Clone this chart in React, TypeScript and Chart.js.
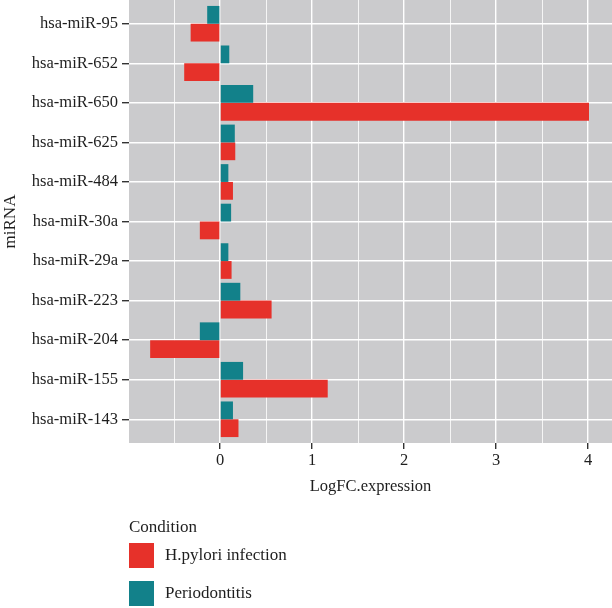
import React, { useEffect, useRef } from "react";
import { Chart, registerables } from "chart.js";

Chart.register(...registerables);

const categories = [
  "hsa-miR-95",
  "hsa-miR-652",
  "hsa-miR-650",
  "hsa-miR-625",
  "hsa-miR-484",
  "hsa-miR-30a",
  "hsa-miR-29a",
  "hsa-miR-223",
  "hsa-miR-204",
  "hsa-miR-155",
  "hsa-miR-143",
];
const periodontitis = [-0.14, 0.1, 0.36, 0.16, 0.09, 0.12, 0.09, 0.22, -0.22, 0.25, 0.14];
const hpylori = [-0.32, -0.39, 4.01, 0.165, 0.14, -0.22, 0.125, 0.56, -0.76, 1.17, 0.2];
const xTicks = [-0.5, 0, 0.5, 1, 1.5, 2, 2.5, 3, 3.5, 4];
const seriesNames = ["H.pylori infection", "Periodontitis"];
const legendTitle = "Condition";

const RED = "#E6312A";
const TEAL = "#12818A";
const PANEL = "#CBCBCD";
const FONT = "'Liberation Serif', serif";
const TEXT = "#1e1e1e";

const panelBg = {
  id: "panelBg",
  beforeDraw(chart: any) {
    const { ctx, chartArea } = chart;
    ctx.save();
    ctx.fillStyle = PANEL;
    ctx.fillRect(chartArea.left, chartArea.top, chartArea.right - chartArea.left, chartArea.bottom - chartArea.top);
    ctx.restore();
  },
};

export default function App() {
  const ref = useRef<HTMLCanvasElement | null>(null);

  useEffect(() => {
    if (!ref.current) return;
    const chart = new Chart(ref.current, {
      type: "bar",
      data: {
        datasets: [
          {
            label: seriesNames[1],
            data: periodontitis.map((v, i) => ({ x: v, y: i })),
            backgroundColor: TEAL,
            borderWidth: 0,
          },
          {
            label: seriesNames[0],
            data: hpylori.map((v, i) => ({ x: v, y: i })),
            backgroundColor: RED,
            borderWidth: 0,
          },
        ],
      },
      plugins: [panelBg],
      options: {
        indexAxis: "y",
        responsive: false,
        animation: false,
        devicePixelRatio: 1,
        layout: { padding: { left: 0, right: 0, top: 0, bottom: 111 } },
        datasets: {
          bar: { categoryPercentage: 0.9, barPercentage: 1.0, grouped: true },
        },
        plugins: {
          legend: { display: false },
          tooltip: { enabled: false },
        },
        scales: {
          x: {
            type: "linear",
            min: -0.99,
            max: 4.26,
            afterBuildTicks: (scale: any) => {
              scale.ticks = xTicks.map((v) => ({ value: v }));
            },
            afterFit: (scale: any) => {
              scale.height = 54;
              scale.paddingLeft = 0;
              scale.paddingRight = 0;
            },
            ticks: {
              autoSkip: false,
              maxRotation: 0,
              padding: 2,
              color: TEXT,
              font: { family: FONT, size: 16.5 },
              callback: (v: any) => (Number.isInteger(v) ? String(v) : ""),
            },
            grid: {
              color: "#ffffff",
              lineWidth: (c: any) => (c.tick && Number.isInteger(c.tick.value) ? 1.4 : 0.8),
              tickColor: (c: any) => (c.tick && Number.isInteger(c.tick.value) ? "#333333" : "rgba(0,0,0,0)"),
              tickLength: 6,
            },
            border: { display: false },
            title: {
              display: true,
              text: "LogFC.expression",
              color: TEXT,
              font: { family: FONT, size: 16.5 },
              padding: 0,
            },
          },
          y: {
            type: "linear",
            min: -0.6,
            max: 10.6,
            reverse: true,
            offset: false,
            afterBuildTicks: (scale: any) => {
              scale.ticks = categories.map((_, i) => ({ value: i }));
            },
            afterFit: (scale: any) => {
              scale.width = 129;
              scale.paddingTop = 0;
              scale.paddingBottom = 0;
            },
            ticks: {
              autoSkip: false,
              padding: 4,
              color: TEXT,
              font: { family: FONT, size: 16.5 },
              callback: (v: any) => categories[v] ?? "",
            },
            grid: {
              offset: false,
              color: "#ffffff",
              lineWidth: 1.4,
              tickColor: "#333333",
              tickLength: 7,
            },
            border: { display: false },
            title: {
              display: true,
              text: "miRNA",
              color: TEXT,
              font: { family: FONT, size: 17 },
              padding: 0,
            },
          },
        },
      } as any,
    });
    return () => chart.destroy();
  }, []);

  const txt: React.CSSProperties = {
    position: "absolute",
    fontFamily: FONT,
    fontSize: 17,
    color: TEXT,
    lineHeight: "20px",
    whiteSpace: "nowrap",
  };

  return (
    <div style={{ position: "absolute", left: 0, top: 0, width: 612, height: 608, background: "#fff" }}>
      <canvas ref={ref} width={612} height={608} style={{ position: "absolute", left: 0, top: 0, width: 612, height: 608 }} />
      <div style={{ ...txt, left: 129, top: 517 }}>{legendTitle}</div>
      <div style={{ position: "absolute", left: 129, top: 543, width: 25, height: 25, background: RED }} />
      <div style={{ ...txt, left: 165, top: 545 }}>{seriesNames[0]}</div>
      <div style={{ position: "absolute", left: 129, top: 581, width: 25, height: 25, background: TEAL }} />
      <div style={{ ...txt, left: 165, top: 583 }}>{seriesNames[1]}</div>
    </div>
  );
}
